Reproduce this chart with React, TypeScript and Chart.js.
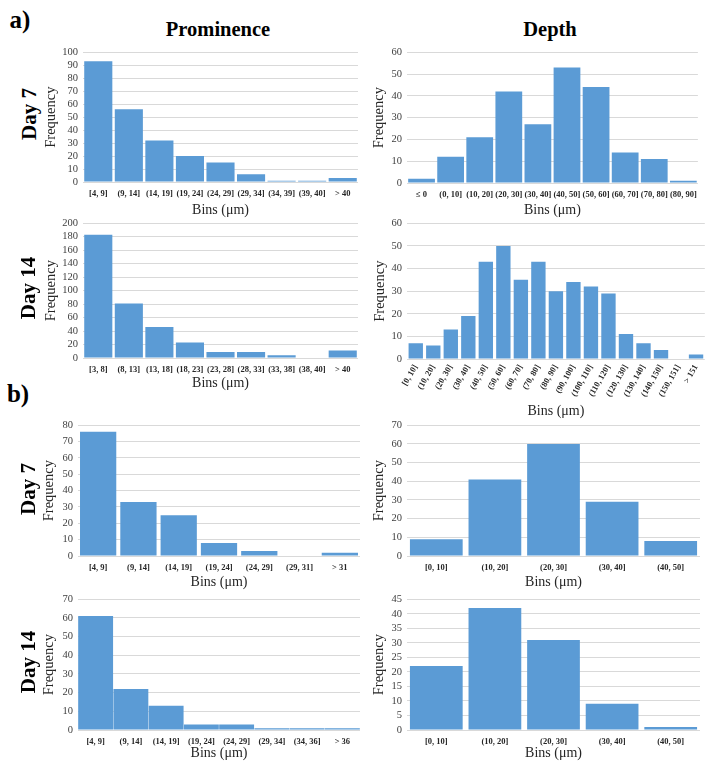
import React, { useEffect, useRef } from "react";
import { Chart, registerables } from "chart.js";

Chart.register(...registerables);

// ---------- data ----------
const promDay7Bins = ["[4, 9]", "(9, 14]", "(14, 19]", "(19, 24]", "(24, 29]", "(29, 34]", "(34, 39]", "(39, 40]", "> 40"];
const promDay7Freq = [93, 56, 32, 20, 15, 6, 1, 1, 3];

const depthDay7Bins = ["≤ 0", "(0, 10]", "(10, 20]", "(20, 30]", "(30, 40]", "(40, 50]", "(50, 60]", "(60, 70]", "(70, 80]", "(80, 90]"];
const depthDay7Freq = [2, 12, 21, 42, 27, 53, 44, 14, 11, 1];

const promDay14Bins = ["[3, 8]", "(8, 13]", "(13, 18]", "(18, 23]", "(23, 28]", "(28, 33]", "(33, 38]", "(38, 40]", "> 40"];
const promDay14Freq = [183, 81, 46, 23, 9, 9, 4, 0, 11];

const depthDay14Bins = ["[0, 10]", "(10, 20]", "(20, 30]", "(30, 40]", "(40, 50]", "(50, 60]", "(60, 70]", "(70, 80]", "(80, 90]", "(90, 100]", "(100, 110]", "(110, 120]", "(120, 130]", "(130, 140]", "(140, 150]", "(150, 151]", "> 151"];
const depthDay14Freq = [7, 6, 13, 19, 43, 50, 35, 43, 30, 34, 32, 29, 11, 7, 4, 0, 2];

const bPromDay7Bins = ["[4, 9]", "(9, 14]", "(14, 19]", "(19, 24]", "(24, 29]", "(29, 31]", "> 31"];
const bPromDay7Freq = [76, 33, 25, 8, 3, 0, 2];

const bDepthDay7Bins = ["[0, 10]", "(10, 20]", "(20, 30]", "(30, 40]", "(40, 50]"];
const bDepthDay7Freq = [9, 41, 60, 29, 8];

const bPromDay14Bins = ["[4, 9]", "(9, 14]", "(14, 19]", "(19, 24]", "(24, 29]", "(29, 34]", "(34, 36]", "> 36"];
const bPromDay14Freq = [61, 22, 13, 3, 3, 1, 1, 1];

const bDepthDay14Bins = ["[0, 10]", "(10, 20]", "(20, 30]", "(30, 40]", "(40, 50]"];
const bDepthDay14Freq = [22, 42, 31, 9, 1];

const yMaxes = [100, 60, 200, 60, 80, 70, 70, 45];
const ySteps = [10, 10, 20, 10, 10, 10, 10, 5];

// ---------- styling / layout ----------
const BAR = "#5b9bd5";
const GRID = "#d9d9d9";
const FONT = "'Liberation Serif', 'Times New Roman', serif";
const PAD_T = 8;
const PAD_R = 4;

type Spec = {
  labels: string[];
  values: number[];
  yMax: number;
  yStep: number;
  plotL: number;
  plotT: number;
  plotR: number;
  plotB: number;
  yAxisW: number;
  xAxisH: number;
  barPct: number;
  rot: number;
};

const specs: Spec[] = [
  { labels: promDay7Bins, values: promDay7Freq, yMax: yMaxes[0], yStep: ySteps[0], plotL: 83, plotT: 50, plotR: 358, plotB: 182, yAxisW: 41, xAxisH: 37, barPct: 0.92, rot: 0 },
  { labels: depthDay7Bins, values: depthDay7Freq, yMax: yMaxes[1], yStep: ySteps[1], plotL: 407, plotT: 50, plotR: 700, plotB: 183, yAxisW: 37, xAxisH: 36, barPct: 0.92, rot: 0 },
  { labels: promDay14Bins, values: promDay14Freq, yMax: yMaxes[2], yStep: ySteps[2], plotL: 83, plotT: 221, plotR: 358, plotB: 358, yAxisW: 41, xAxisH: 34, barPct: 0.92, rot: 0 },
  { labels: depthDay14Bins, values: depthDay14Freq, yMax: yMaxes[3], yStep: ySteps[3], plotL: 407, plotT: 221, plotR: 705, plotB: 359, yAxisW: 36, xAxisH: 61, barPct: 0.82, rot: 60 },
  { labels: bPromDay7Bins, values: bPromDay7Freq, yMax: yMaxes[4], yStep: ySteps[4], plotL: 78, plotT: 423, plotR: 360, plotB: 556, yAxisW: 38, xAxisH: 35, barPct: 0.9, rot: 0 },
  { labels: bDepthDay7Bins, values: bDepthDay7Freq, yMax: yMaxes[5], yStep: ySteps[5], plotL: 407, plotT: 423, plotR: 700, plotB: 556, yAxisW: 37, xAxisH: 35, barPct: 0.9, rot: 0 },
  { labels: bPromDay14Bins, values: bPromDay14Freq, yMax: yMaxes[6], yStep: ySteps[6], plotL: 78, plotT: 597, plotR: 360, plotB: 730, yAxisW: 38, xAxisH: 32, barPct: 0.99, rot: 0 },
  { labels: bDepthDay14Bins, values: bDepthDay14Freq, yMax: yMaxes[7], yStep: ySteps[7], plotL: 407, plotT: 597, plotR: 700, plotB: 730, yAxisW: 37, xAxisH: 32, barPct: 0.9, rot: 0 },
];

function Panel({ s }: { s: Spec }) {
  const ref = useRef<HTMLCanvasElement>(null);
  const left = s.plotL - s.yAxisW;
  const top = s.plotT - PAD_T;
  const w = s.yAxisW + (s.plotR - s.plotL) + PAD_R;
  const h = PAD_T + (s.plotB - s.plotT) + s.xAxisH;

  useEffect(() => {
    if (!ref.current) return;
    const chart = new Chart(ref.current, {
      type: "bar",
      data: {
        labels: s.labels,
        datasets: [
          {
            data: s.values,
            backgroundColor: BAR,
            borderWidth: 0,
            barPercentage: s.barPct,
            categoryPercentage: 1,
          },
        ],
      },
      options: {
        animation: false,
        responsive: false,
        maintainAspectRatio: false,
        devicePixelRatio: 1,
        layout: { padding: { top: PAD_T, right: PAD_R, left: 0, bottom: 0 } },
        plugins: { legend: { display: false }, tooltip: { enabled: false } },
        scales: {
          x: {
            grid: { display: false, drawTicks: false },
            border: { display: false },
            ticks: {
              autoSkip: false,
              maxRotation: s.rot,
              minRotation: s.rot,
              padding: s.rot ? 4 : 7,
              color: "#262626",
              font: { family: FONT, size: 8.5, weight: "bold" },
            },
            title: {
              display: true,
              text: "Bins (μm)",
              padding: 0,
              color: "#262626",
              font: { family: FONT, size: 14 },
            },
            afterFit: (sc: any) => {
              sc.height = s.xAxisH;
            },
          },
          y: {
            min: 0,
            max: s.yMax,
            grid: { color: GRID, drawTicks: false, lineWidth: 1 },
            border: { display: false },
            ticks: {
              stepSize: s.yStep,
              autoSkip: false,
              padding: 5,
              color: "#404040",
              font: { family: FONT, size: 10.5, lineHeight: 1 },
            },
            title: {
              display: true,
              text: "Frequency",
              padding: 0,
              color: "#262626",
              font: { family: FONT, size: 14.5 },
            },
            afterFit: (sc: any) => {
              sc.width = s.yAxisW;
            },
          },
        },
      },
    } as any);
    return () => chart.destroy();
  }, []);

  return (
    <canvas
      ref={ref}
      width={w}
      height={h}
      style={{ position: "absolute", left, top, width: w, height: h }}
    />
  );
}

function Label({
  text,
  x,
  y,
  size,
  rotate = false,
}: {
  text: string;
  x: number;
  y: number;
  size: number;
  rotate?: boolean;
}) {
  return (
    <div
      style={{
        position: "absolute",
        left: x,
        top: y,
        transform: `translate(-50%, -50%)${rotate ? " rotate(-90deg)" : ""}`,
        fontFamily: FONT,
        fontWeight: "bold",
        fontSize: size,
        lineHeight: 1,
        whiteSpace: "nowrap",
        color: "#000",
      }}
    >
      {text}
    </div>
  );
}

export default function App() {
  return (
    <div
      style={{
        position: "absolute",
        left: 0,
        top: 0,
        width: 711,
        height: 767,
        background: "#fff",
        overflow: "hidden",
      }}
    >
      {specs.map((s, i) => (
        <Panel key={i} s={s} />
      ))}
      <Label text="a)" x={20} y={19} size={25} />
      <Label text="b)" x={18} y={393} size={25} />
      <Label text="Prominence" x={218} y={29} size={20.5} />
      <Label text="Depth" x={550} y={29} size={20.5} />
      <Label text="Day 7" x={29} y={114} size={21} rotate />
      <Label text="Day 14" x={28} y={288} size={21} rotate />
      <Label text="Day 7" x={28} y={489} size={21} rotate />
      <Label text="Day 14" x={28} y={662} size={21} rotate />
    </div>
  );
}
